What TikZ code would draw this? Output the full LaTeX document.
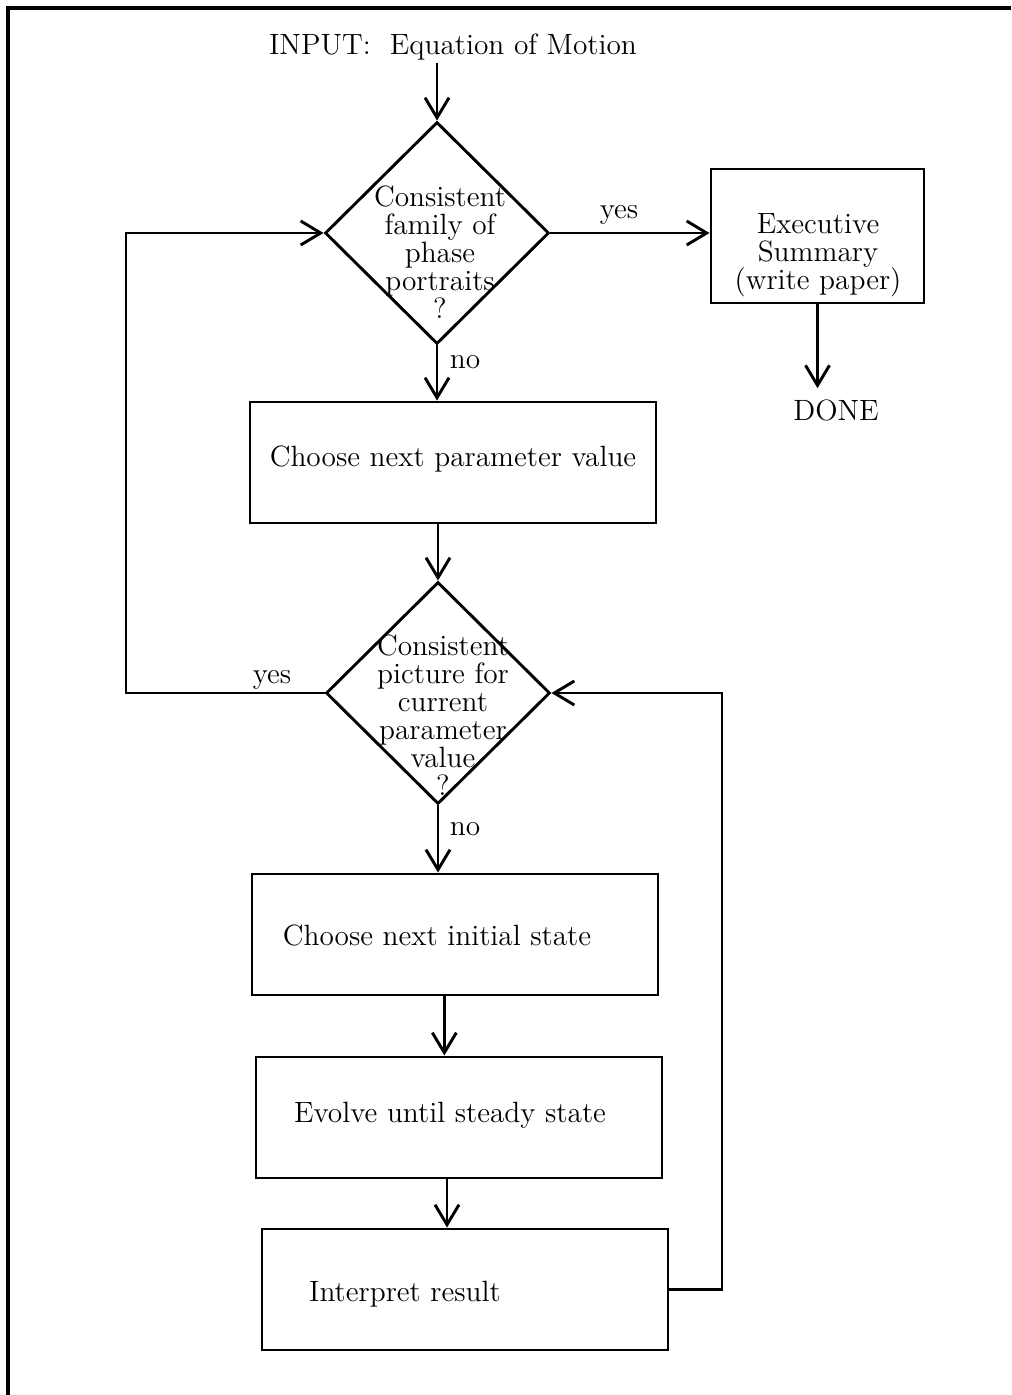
\documentclass[tikz,border=0pt]{standalone}
\usetikzlibrary{arrows.meta,shapes.geometric}
\begin{document}
\begin{tikzpicture}[x=0.375pt,y=-0.375pt,
  font=\fontsize{11}{10.5}\selectfont,
  stepbox/.style={draw, line width=1.1pt, minimum width=406*0.375pt,
    minimum height=121*0.375pt, inner sep=0pt},
  dec/.style={draw, diamond, line width=1.1pt, minimum width=224*0.375pt,
    minimum height=222*0.375pt, inner sep=0pt},
  arr/.style={line width=1.1pt, -{Straight Barb[length=7.5pt,width=9pt,line width=1.1pt]}},
  txt/.style={align=center, inner sep=1pt},
  lbl/.style={inner sep=1pt}]
\useasboundingbox (0,0) rectangle (1011,1395);

% frame (top and left edges)
\draw[line width=1.2pt] (1011,8) -- (8,8) -- (8,1395);

% nodes
\node[lbl] (title) at (453,47) {INPUT:\ \ Equation of Motion};

\node[dec] (d1) at (437,233) {};
\node[txt] (d1t) at (440,252) {Consistent\\family of\\phase\\portraits\\?};

\node[stepbox, minimum width=213*0.375pt, minimum height=134*0.375pt] (exec) at (817.5,236) {};
\node[txt] (exect) at (818,255) {Executive\\Summary\\(write paper)};
\node[lbl] (done) at (836,410) {DONE};

\node[stepbox] (b2) at (453,462.5) {};
\node[txt] (b2t) at (453,459) {Choose next parameter value};

\node[dec] (d2) at (438,693) {};
\node[txt] (d2t) at (443,715) {Consistent\\picture for\\current\\parameter\\value\\?};

\node[stepbox] (b3) at (455,934.5) {};
\node[txt] (b3t) at (437,935) {Choose next initial state};

\node[stepbox] (b4) at (459,1117.5) {};
\node[txt] (b4t) at (450,1115) {Evolve until steady state};

\node[stepbox] (b5) at (465,1289.5) {};
\node[txt] (b5t) at (405,1294) {Interpret result};

\coordinate (lret) at (126,0);
\coordinate (rret) at (722,0);

% connectors
\draw[arr] (title.south -| d1.north) -- (d1.north);
\draw[arr] (d1.east) -- (d1.east -| exec.west);
\node[lbl] (yes1) at (619,215) {yes};
\draw[arr] (exec.south) -- ([yshift=3pt]exec.south |- done.north);
\draw[arr] (d1.south) -- (d1.south |- b2.north);
\node[lbl] (no1) at (465,362) {no};
\draw[arr] (d2.north |- b2.south) -- (d2.north);
\draw[arr] (d2.west) -| (lret |- d1.west) -- (d1.west);
\node[lbl] (yes2) at (272,680) {yes};
\draw[arr] (d2.south) -- (d2.south |- b3.north);
\node[lbl] (no2) at (465,829) {no};
\draw[arr] ([xshift=-4pt]b3.south) -- ([xshift=-4pt]b3.south |- b4.north);
\draw[arr] ([xshift=-4.5pt]b4.south) -- ([xshift=-4.5pt]b4.south |- b5.north);
\draw[arr] (b5.east) -| (rret |- d2.east) -- (d2.east);
\end{tikzpicture}
\end{document}
